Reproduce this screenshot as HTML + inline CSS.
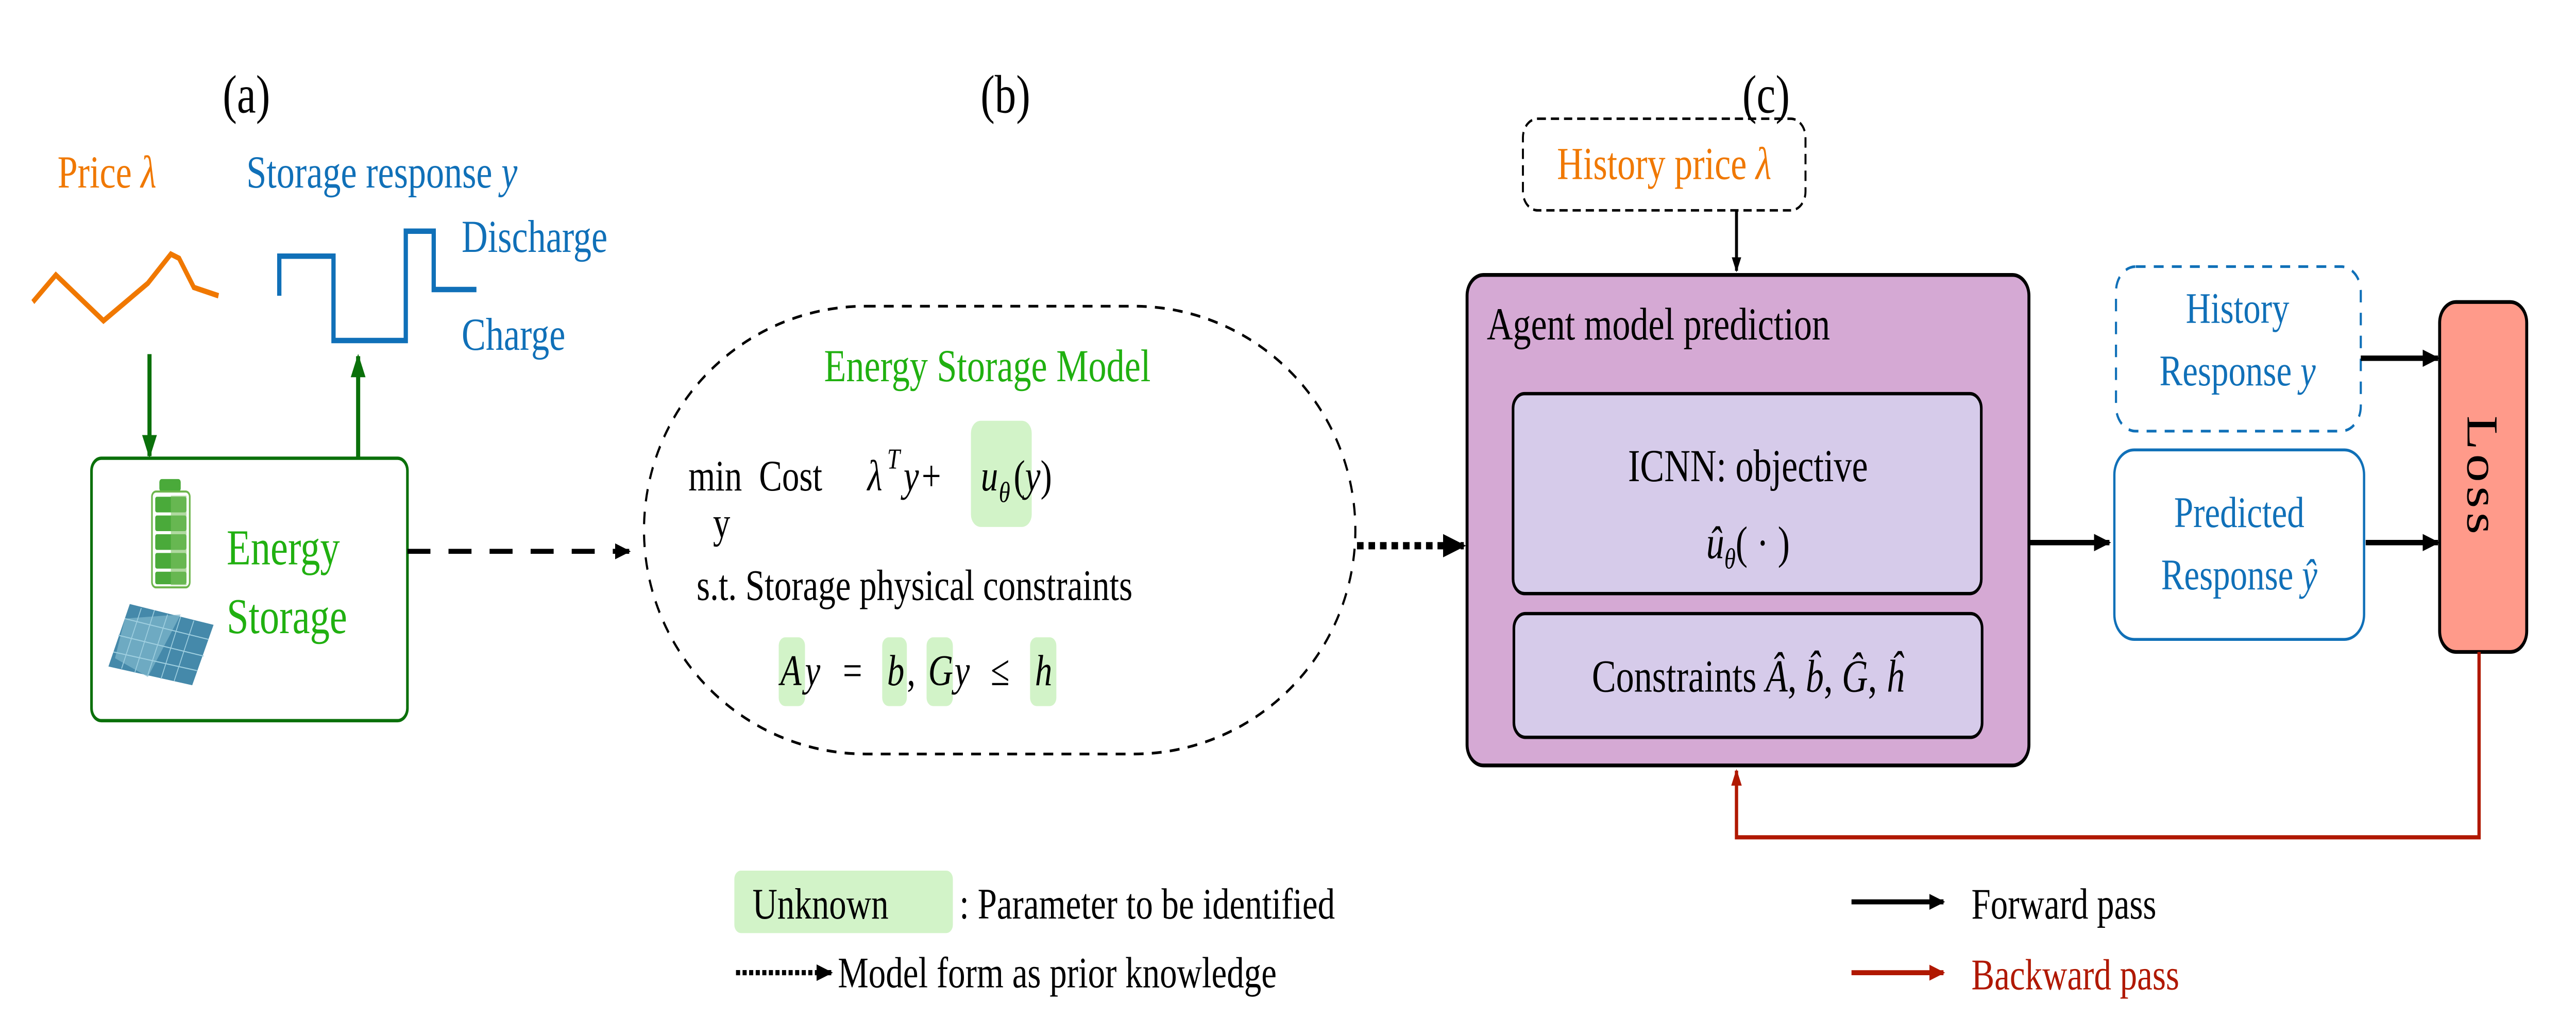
<!DOCTYPE html>
<html><head><meta charset="utf-8"><style>
html,body{margin:0;padding:0;background:#fff;overflow:hidden;width:100%;height:100%;}
svg{display:block;width:100vw;height:100vh;}
text{font-family:"Liberation Serif","DejaVu Serif",serif;}
</style></head><body>
<svg viewBox="0 0 1568 497.4" preserveAspectRatio="none" xmlns="http://www.w3.org/2000/svg">
<defs>
<marker id="ak" viewBox="0 0 10 10" refX="9" refY="5" markerWidth="4" markerHeight="4" orient="auto" markerUnits="strokeWidth"><path d="M0,1 L10,5 L0,9 z" fill="#000"/></marker>
<marker id="ag" viewBox="0 0 10 10" refX="9" refY="5" markerWidth="4.5" markerHeight="4.5" orient="auto" markerUnits="strokeWidth"><path d="M0,1 L10,5 L0,9 z" fill="#0A700A"/></marker>
<marker id="ar" viewBox="0 0 10 10" refX="9" refY="5" markerWidth="4" markerHeight="4" orient="auto" markerUnits="strokeWidth"><path d="M0,1 L10,5 L0,9 z" fill="#B01800"/></marker>
</defs>

<text x="150" y="54" font-size="26" text-anchor="middle">(a)</text>
<text x="612" y="54" font-size="26" text-anchor="middle">(b)</text>
<text x="1075" y="54" font-size="26" text-anchor="middle">(c)</text>

<!-- (a) -->
<text x="35" y="90" font-size="22" fill="#F07800">Price <tspan font-style="italic">λ</tspan></text>
<text x="150" y="90" font-size="22" fill="#1070B8">Storage response <tspan font-style="italic">y</tspan></text>
<polyline points="20,145 34,132 63,154 90,136 104,122 109,124 118,138 133,142" fill="none" stroke="#F07800" stroke-width="2.6"/>
<polyline points="170,142 170,123 203,123 203,163.5 247,163.5 247,111 264,111 264,139 290,139" fill="none" stroke="#1070B8" stroke-width="2.6"/>
<text x="281" y="121" font-size="22" fill="#1070B8">Discharge</text>
<text x="281" y="168" font-size="22" fill="#1070B8">Charge</text>
<line x1="91" y1="170" x2="91" y2="219" stroke="#0A700A" stroke-width="2.5" marker-end="url(#ag)"/>
<line x1="218" y1="221" x2="218" y2="171" stroke="#0A700A" stroke-width="2.5" marker-end="url(#ag)"/>
<rect x="55.7" y="220" width="192.3" height="126" rx="6" fill="#fff" stroke="#0A700A" stroke-width="1.6"/>
<rect x="97" y="230" width="13" height="6" rx="1.5" fill="#4AAA3A"/>
<rect x="92.5" y="236" width="23" height="46" rx="2.5" fill="#fff" stroke="#6DB54C" stroke-width="1"/>
<g fill="#4AAA3A">
<rect x="94.5" y="238.5" width="19" height="7.5" rx="1"/>
<rect x="94.5" y="247.5" width="19" height="7.5" rx="1"/>
<rect x="94.5" y="256.5" width="19" height="7.5" rx="1"/>
<rect x="94.5" y="265.5" width="19" height="7.5" rx="1"/>
<rect x="94.5" y="274.5" width="19" height="6" rx="1"/>
</g>
<rect x="104" y="238" width="9.5" height="43" fill="#7BC060" opacity="0.6"/>
<polygon points="79,290 130,300 117,329 66,320" fill="#4589AA"/>
<polygon points="76,297 110,295 90,325 70,316" fill="#80B8CC" opacity="0.7"/>
<g stroke="#9FCFE0" stroke-width="0.5">
<line x1="86" y1="292" x2="74" y2="321"/><line x1="94" y1="293" x2="82" y2="323"/><line x1="102" y1="295" x2="90" y2="324"/><line x1="110" y1="296" x2="98" y2="326"/><line x1="118" y1="298" x2="106" y2="327"/>
<line x1="76" y1="297" x2="127" y2="307"/><line x1="72" y1="305" x2="124" y2="315"/><line x1="69" y1="313" x2="120" y2="322"/>
</g>
<text x="138" y="271" font-size="24" fill="#20B010">Energy</text>
<text x="138" y="304" font-size="24" fill="#20B010">Storage</text>
<line x1="248" y1="264.7" x2="383" y2="264.7" stroke="#000" stroke-width="2.4" stroke-dasharray="14,11" marker-end="url(#ak)"/>

<!-- (b) -->
<rect x="392" y="147" width="433" height="215" rx="135" ry="108" fill="none" stroke="#000" stroke-width="1.3" stroke-dasharray="6,5"/>
<text x="601" y="183" font-size="22" fill="#20B010" text-anchor="middle">Energy Storage Model</text>
<rect x="591" y="202" width="37" height="51" rx="6" fill="#D2F3C8"/>
<text x="419" y="235.5" font-size="21">min</text>
<text x="462" y="235.5" font-size="21">Cost</text>
<text x="434" y="258" font-size="21">y</text>
<text x="528" y="235.5" font-size="21" font-style="italic">λ</text>
<text x="540" y="225" font-size="14" font-style="italic">T</text>
<text x="550" y="235.5" font-size="21" font-style="italic">y</text>
<text x="561" y="235.5" font-size="21">+</text>
<text x="597" y="235.5" font-size="21" font-style="italic">u</text>
<text x="608" y="241" font-size="14" font-style="italic">θ</text>
<text x="617" y="235.5" font-size="21">(<tspan font-style="italic">y</tspan>)</text>
<text x="424" y="288" font-size="21">s.t. Storage physical constraints</text>
<rect x="474" y="306" width="16" height="33" rx="4" fill="#D2F3C8"/>
<rect x="537" y="306" width="15" height="33" rx="4" fill="#D2F3C8"/>
<rect x="564" y="306" width="16" height="33" rx="4" fill="#D2F3C8"/>
<rect x="627" y="306" width="16" height="33" rx="4" fill="#D2F3C8"/>
<text x="475" y="329" font-size="21" font-style="italic">A</text>
<text x="490" y="329" font-size="21" font-style="italic">y</text>
<text x="513" y="329" font-size="21">=</text>
<text x="540" y="329" font-size="21" font-style="italic">b</text>
<text x="552" y="329" font-size="21">,</text>
<text x="565" y="329" font-size="21" font-style="italic">G</text>
<text x="581" y="329" font-size="21" font-style="italic">y</text>
<text x="603" y="329" font-size="21">≤</text>
<text x="630" y="329" font-size="21" font-style="italic">h</text>
<line x1="826" y1="262" x2="891" y2="262" stroke="#000" stroke-width="3.5" stroke-dasharray="4,3" marker-end="url(#ak)"/>

<!-- (c) -->
<rect x="927" y="57" width="172" height="44" rx="9" fill="none" stroke="#000" stroke-width="1.2" stroke-dasharray="5,3"/>
<text x="1013" y="86" font-size="22" fill="#F07800" text-anchor="middle">History price <tspan font-style="italic">λ</tspan></text>
<line x1="1057" y1="101" x2="1057" y2="130" stroke="#000" stroke-width="1.8" marker-end="url(#ak)"/>
<rect x="893" y="132" width="342" height="235.5" rx="10" fill="#D5A9D4" stroke="#000" stroke-width="1.8"/>
<text x="905" y="163" font-size="22">Agent model prediction</text>
<rect x="921" y="189" width="285" height="96" rx="7" fill="#D6CBEA" stroke="#000" stroke-width="1.6"/>
<text x="1064" y="231" font-size="22" text-anchor="middle">ICNN: objective</text>
<text x="1064" y="268" font-size="22" text-anchor="middle"><tspan font-style="italic">û</tspan><tspan font-style="italic" font-size="14" dy="5">θ</tspan><tspan dy="-5">( · )</tspan></text>
<rect x="921.5" y="294.6" width="285" height="59.4" rx="7" fill="#D6CBEA" stroke="#000" stroke-width="1.6"/>
<text x="1064" y="332" font-size="22" text-anchor="middle">Constraints <tspan font-style="italic">Â</tspan>, <tspan font-style="italic">b̂</tspan>, <tspan font-style="italic">Ĝ</tspan>, <tspan font-style="italic">ĥ</tspan></text>
<line x1="1235" y1="260.5" x2="1284" y2="260.5" stroke="#000" stroke-width="2.6" marker-end="url(#ak)"/>

<rect x="1288" y="128" width="149" height="79" rx="12" fill="none" stroke="#1070B8" stroke-width="1.3" stroke-dasharray="6,5"/>
<text x="1362" y="155" font-size="21" fill="#1070B8" text-anchor="middle">History</text>
<text x="1362" y="185" font-size="21" fill="#1070B8" text-anchor="middle">Response <tspan font-style="italic">y</tspan></text>
<rect x="1287" y="216" width="152" height="91" rx="12" fill="#fff" stroke="#1070B8" stroke-width="1.4"/>
<text x="1363" y="253" font-size="21" fill="#1070B8" text-anchor="middle">Predicted</text>
<text x="1363" y="283" font-size="21" fill="#1070B8" text-anchor="middle">Response <tspan font-style="italic">ŷ</tspan></text>
<line x1="1437" y1="172" x2="1484" y2="172" stroke="#000" stroke-width="2.6" marker-end="url(#ak)"/>
<line x1="1440" y1="260.5" x2="1484" y2="260.5" stroke="#000" stroke-width="2.6" marker-end="url(#ak)"/>
<rect x="1485" y="145" width="53" height="168" rx="10" fill="#FF9A8A" stroke="#000" stroke-width="1.8"/>
<text x="0" y="0" font-size="27" text-anchor="middle" transform="translate(1502,229) rotate(90)" letter-spacing="2">Loss</text>
<polyline points="1509,313 1509,402 1057,402 1057,370" fill="none" stroke="#B01800" stroke-width="2" marker-end="url(#ar)"/>

<!-- legend -->
<rect x="447" y="418" width="133" height="30" rx="4" fill="#D2F3C8"/>
<text x="458" y="441" font-size="21">Unknown</text>
<text x="584" y="441" font-size="21">: Parameter to be identified</text>
<line x1="448" y1="467" x2="506" y2="467" stroke="#000" stroke-width="2.5" stroke-dasharray="2.5,1.5" marker-end="url(#ak)"/>
<text x="510" y="474" font-size="21">Model form as prior knowledge</text>
<line x1="1127" y1="433" x2="1183" y2="433" stroke="#000" stroke-width="2.4" marker-end="url(#ak)"/>
<text x="1200" y="441" font-size="21">Forward pass</text>
<line x1="1127" y1="467" x2="1183" y2="467" stroke="#B01800" stroke-width="2.4" marker-end="url(#ar)"/>
<text x="1200" y="475" font-size="21" fill="#B01800">Backward pass</text>
</svg>
</body></html>
